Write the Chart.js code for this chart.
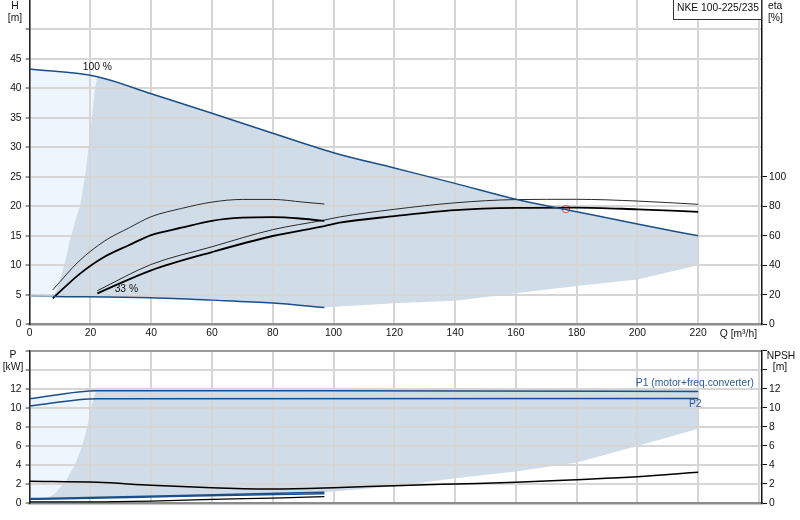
<!DOCTYPE html>
<html>
<head>
<meta charset="utf-8">
<script src="https://cdn.jsdelivr.net/npm/chart.js@4.4.1/dist/chart.umd.min.js"></script>
<style>
html, body { margin:0; padding:0; background:#fff; }
#wrap { position:relative; width:800px; height:520px; overflow:hidden; }
canvas { position:absolute; left:0; }
#top { top:0; }
#bot { top:340px; }
</style>
</head>
<body>
<div id="wrap">
<canvas id="top" width="800" height="340"></canvas>
<canvas id="bot" width="800" height="180"></canvas>
</div>
<script>
'use strict';
// pump NKE 100-225/235 : Q-H, eta (top) and P / NPSH (bottom)

var qTicks = [0, 20, 40, 60, 80, 100, 120, 140, 160, 180, 200, 220, 240];
var qLabels = ['0', '20', '40', '60', '80', '100', '120', '140', '160', '180', '200', '220', ''];
var hTicks = [0, 5, 10, 15, 20, 25, 30, 35, 40, 45, 50];
var hLabels = ['0', '5', '10', '15', '20', '25', '30', '35', '40', '45', ''];
var etaTicks = [0, 20, 40, 60, 80, 100];
var pTicks = [0, 2, 4, 6, 8, 10, 12, 14, 16];
var pLabels = ['0', '2', '4', '6', '8', '10', '12', '', ''];

// head [Q m3/h, H m]
var head100 = [[0, 43.3], [22.3, 42.0], [40, 39.1], [60, 35.8], [80, 32.4], [100, 29.1], [120, 26.5], [140, 23.9], [160, 21.2], [180, 19.1], [200, 17.0], [220, 15.0]];
var head33Low = [[0, 4.78], [7.6, 4.72]];
var head33 = [[7.6, 4.72], [40, 4.5], [60, 4.1], [80, 3.6], [97, 2.85]];
var headEdge = [[7.6, 4.72], [8.9, 5.8], [10.6, 8.5], [12.0, 11.3], [13.3, 14.3], [15.0, 17.5], [16.6, 20], [18.2, 25], [19.4, 30], [20.5, 35], [21.5, 40]];
var headFloor = [[7.6, 4.72], [40, 4.5], [60, 4.1], [80, 3.6], [97, 2.85], [102, 3.0], [120, 3.56], [140, 4.0], [160, 5.25], [180, 6.5], [200, 7.6], [220, 10.0]];
var headMinFlowTop = [[0, 43.3], [22.3, 42.0]];
var headMinFlowBottom = [[0, 4.8], [22.3, 4.72]];
var dutyPoint = [[176.5, 19.55]];

// efficiency [Q, eta %]
var etaPump33 = [[7.6, 23.3], [16.3, 42.9], [24.8, 56.7], [32.8, 65.5], [40, 73], [50, 78.6], [60, 82.9], [70, 84.7], [80, 84.7], [90, 82.9], [97, 81.6]];
var etaTotal33 = [[7.6, 17.6], [16.3, 33.9], [23.7, 44.7], [32.8, 53.8], [40, 60.5], [50, 65.5], [60, 70.2], [70, 72.3], [80, 72.7], [90, 71.6], [97, 70.2]];
var etaPump100 = [[22.3, 22.8], [40, 40.6], [60, 52.6], [80, 64.2], [97, 70.7], [102, 72.8], [120, 78], [140, 82.4], [160, 84.6], [180, 84.8], [200, 83.6], [220, 81.4]];
var etaTotal100 = [[22.3, 21], [40, 36.6], [60, 49], [80, 59.9], [97, 66.6], [102, 68.9], [120, 73.4], [140, 77.5], [160, 79], [180, 79.2], [200, 78], [220, 76.3]];

// power [Q, kW] and NPSH [Q, m]
var p1Full = [[0, 10.95], [22.3, 11.8], [100, 11.78], [220, 11.72]];
var p2Full = [[0, 10.2], [22.3, 10.95], [220, 10.98]];
var p1Min = [[0, 0.47], [7.6, 0.5], [50, 0.8], [97, 1.12]];
var p2Min = [[0, 0.4], [7.6, 0.42], [50, 0.7], [97, 0.97]];
var npshFull = [[0, 2.28], [22.3, 2.17], [40, 1.86], [60, 1.61], [80, 1.47], [100, 1.6], [120, 1.82], [140, 2.0], [160, 2.17], [180, 2.45], [200, 2.76], [220, 3.22]];
var npshMin = [[0, 0.12], [20, 0.12], [40, 0.2], [60, 0.38], [80, 0.52], [97, 0.66]];
var powerEdge = [[6, 0.5], [8.3, 1.0], [10, 1.6], [12, 2.4], [14.9, 4.0], [17.3, 6], [19, 8], [20.2, 10], [21.3, 11.3]];
var powerCeil = [[22.3, 12.0], [220, 11.97]];
var powerFloor = [[6, 0.49], [7.6, 0.5], [50, 0.8], [97, 1.12], [100, 1.2], [120, 1.75], [140, 2.6], [160, 3.3], [180, 4.25], [200, 6.0], [220, 7.8]];
var powerMinFlowTop = [[0, 10.95], [22.3, 11.8]];
var powerMinFlowBottom = [[0, 0.47], [22.3, 0.6]];

var BLUE = '#1b4f8a', DARK = '#d0dce8', LIGHT = '#eef5fd';
var FONT = 'Liberation Sans, Arial, sans-serif';
var FS = 10.3;

function pts(a) {
    return a.map(function (p) {
        return { x: p[0], y: p[1] }; }); }

function curve(data, color, width, axis, extra)
{
    var d = {
        data: pts(data), borderColor: color, borderWidth: width, pointRadius: 0,
        cubicInterpolationMode: 'monotone', fill: false, yAxisID: axis
    };
    for (var k in extra || {}) {
        d[k] = extra[k]; }
    return d;
}
// closed outline: upper edge left->right, then lower edge back right->left
function shape(upper, lower, axis, color, order)
{
    var ring = upper.concat(lower.slice().reverse());
    return curve(ring, 'transparent', 0, axis, { fill: 'shape', backgroundColor: color, order: order, cubicInterpolationMode: 'default', tension: 0 });
}
function setTicks(list) {
    return function (s) {
        s.ticks = list.map(function (v) {
            return { value: v }; }); }; }
function labelFrom(vals, labels) {
    return function (v) {
        var i = vals.indexOf(v); return i < 0 ? '' : labels[i]; }; }
function fixW(w) {
    return function (s) {
        s.width = w; s.paddingTop = 0; s.paddingBottom = 0; }; }
function fixH(h) {
    return function (s) {
        s.height = h; s.paddingLeft = 0; s.paddingRight = 0; }; }

var gridCol = '#d6d6d6';
var tickFont = { family: FONT, size: FS };

function xScale(h, showLabels)
{
    return {
        type: 'linear', min: 0, max: 241, position: 'bottom',
        afterBuildTicks: setTicks(qTicks), afterFit: fixH(h),
        grid: { color: gridCol, lineWidth: 2, drawTicks: false },
        border: { color: '#8c8c8c', width: 2.5 },
        ticks: { display: showLabels, autoSkip: false, maxRotation: 0, padding: 3, color: '#111', font: tickFont,
            callback: labelFrom(qTicks, qLabels) }
    };
}
function leftScale(max, ticks, labels, gridColor)
{
    return {
        type: 'linear', min: 0, max: max, position: 'left',
        afterBuildTicks: setTicks(ticks), afterFit: fixW(29.6),
        grid: { color: gridColor, lineWidth: 2, tickLength: 4, tickColor: '#333', tickWidth: 1 },
        border: { color: '#222', width: 1.5 },
        ticks: { autoSkip: false, padding: 4, color: '#111', font: tickFont, callback: labelFrom(ticks, labels) }
    };
}
function rightScale(max, ticks, labels)
{
    return {
        type: 'linear', min: 0, max: max, position: 'right',
        afterBuildTicks: setTicks(ticks), afterFit: fixW(38),
        grid: { drawOnChartArea: false, tickLength: 5, tickColor: '#111', tickWidth: 1 },
        border: { color: '#111', width: 1.5 },
        ticks: { autoSkip: false, padding: 2, color: '#111', font: tickFont, callback: labelFrom(ticks, labels) }
    };
}

var topText = {
    id: 'topText',
    afterDraw: function (c) {
        var g = c.ctx, x = c.scales.x, y = c.scales.yH;
        g.save();
        g.font = FS + 'px ' + FONT; g.fillStyle = '#111'; g.textBaseline = 'middle';
        g.textAlign = 'center';
        g.fillText('H', 15, 6); g.fillText('[m]', 15, 18);
        g.fillText('100 %', x.getPixelForValue(22.3), y.getPixelForValue(42) - 9);
        g.fillText('33 %', x.getPixelForValue(22.3) + 29, y.getPixelForValue(4.72) - 7);
        g.textAlign = 'left';
        g.fillText('eta', 768, 6); g.fillText('[%]', 768, 18);
        g.textAlign = 'right';
        g.fillText('Q [m\u00b3/h]', 757, 334);
        // type box
        g.fillStyle = '#fff'; g.fillRect(673.5, -1, 88, 20.5);
        g.strokeStyle = '#333'; g.lineWidth = 1; g.strokeRect(673.5, -1, 88, 20.5);
        g.fillStyle = '#111'; g.textAlign = 'left';
        g.fillText('NKE 100-225/235', 677, 8);
        g.restore();
    }
};
var botText = {
    id: 'botText',
    afterDraw: function (c) {
        var g = c.ctx;
        g.save();
        g.font = FS + 'px ' + FONT; g.fillStyle = '#111'; g.textBaseline = 'middle';
        g.textAlign = 'center';
        g.fillText('P', 13, 15); g.fillText('[kW]', 13, 27);
        g.fillText('NPSH', 781, 16); g.fillText('[m]', 780, 27);
        g.fillStyle = '#2b5c98';
        g.textAlign = 'right'; g.fillText('P1 (motor+freq.converter)', 754, 43);
        g.textAlign = 'left'; g.fillText('P2', 689, 64);
        g.restore();
    }
};

function init()
{
    Chart.defaults.font.family = FONT;
    new Chart(document.getElementById('top').getContext('2d'), {
        type: 'line',
        data: {
            datasets: [
                shape(headMinFlowTop, headMinFlowBottom, 'yH', LIGHT, 5),
                shape(headEdge.concat(head100.filter(function (p) {
                    return p[0] >= 22.3; })), headFloor, 'yH', DARK, 4),
                curve(head100, BLUE, 1.5, 'yH'),
                curve(head33Low, '#8ea6c2', 1.5, 'yH'),
                curve(head33, BLUE, 1.5, 'yH'),
                curve(etaPump33, '#2a2a2a', 1, 'yEta'),
                curve(etaTotal33, '#000', 1.8, 'yEta'),
                curve(etaPump100, '#2a2a2a', 1, 'yEta'),
                curve(etaTotal100, '#000', 1.8, 'yEta'),
                curve(dutyPoint, '#e35a5a', 1.2, 'yH', { showLine: false, pointRadius: 3.5, pointBackgroundColor: '#fff', pointBorderColor: '#e35a5a' })
            ]
        },
        options: {
            responsive: false, animation: false, events: [],
            layout: { padding: 0, autoPadding: false },
            plugins: { legend: { display: false }, tooltip: { enabled: false }, filler: { drawTime: 'beforeDraw' } },
            scales: {
                x: xScale(15.7, true),
                yH: leftScale(55, hTicks, hLabels, gridCol),
                yEta: rightScale(220, etaTicks, etaTicks.map(String))
            }
        },
        plugins: [topText]
    });

    new Chart(document.getElementById('bot').getContext('2d'), {
        type: 'line',
        data: {
            datasets: [
                shape(powerMinFlowTop, powerMinFlowBottom, 'yP', LIGHT, 5),
                shape(powerEdge.concat(powerCeil), powerFloor, 'yP', DARK, 4),
                curve(p1Full, BLUE, 1.5, 'yP'),
                curve(p2Full, BLUE, 1.5, 'yP'),
                curve(p1Min, BLUE, 1.5, 'yP'),
                curve(p2Min, BLUE, 1.5, 'yP'),
                curve(npshFull, '#000', 1.5, 'yN'),
                curve(npshMin, '#000', 1.2, 'yN')
            ]
        },
        options: {
            responsive: false, animation: false, events: [],
            layout: { padding: { top: 10.7 }, autoPadding: false },
            plugins: { legend: { display: false }, tooltip: { enabled: false }, filler: { drawTime: 'beforeDraw' } },
            scales: {
                x: xScale(17, false),
                yP: leftScale(16, pTicks, pLabels, function (ctx) {
                    return ctx.tick && ctx.tick.value === 16 ? '#9a9a9a' : gridCol; }),
                yN: rightScale(16, pTicks, pLabels)
            }
        },
        plugins: [botText]
    });
}
if (document.readyState === 'loading') {
    document.addEventListener('DOMContentLoaded', init); } else {
    init(); }
</script>
</body>
</html>
